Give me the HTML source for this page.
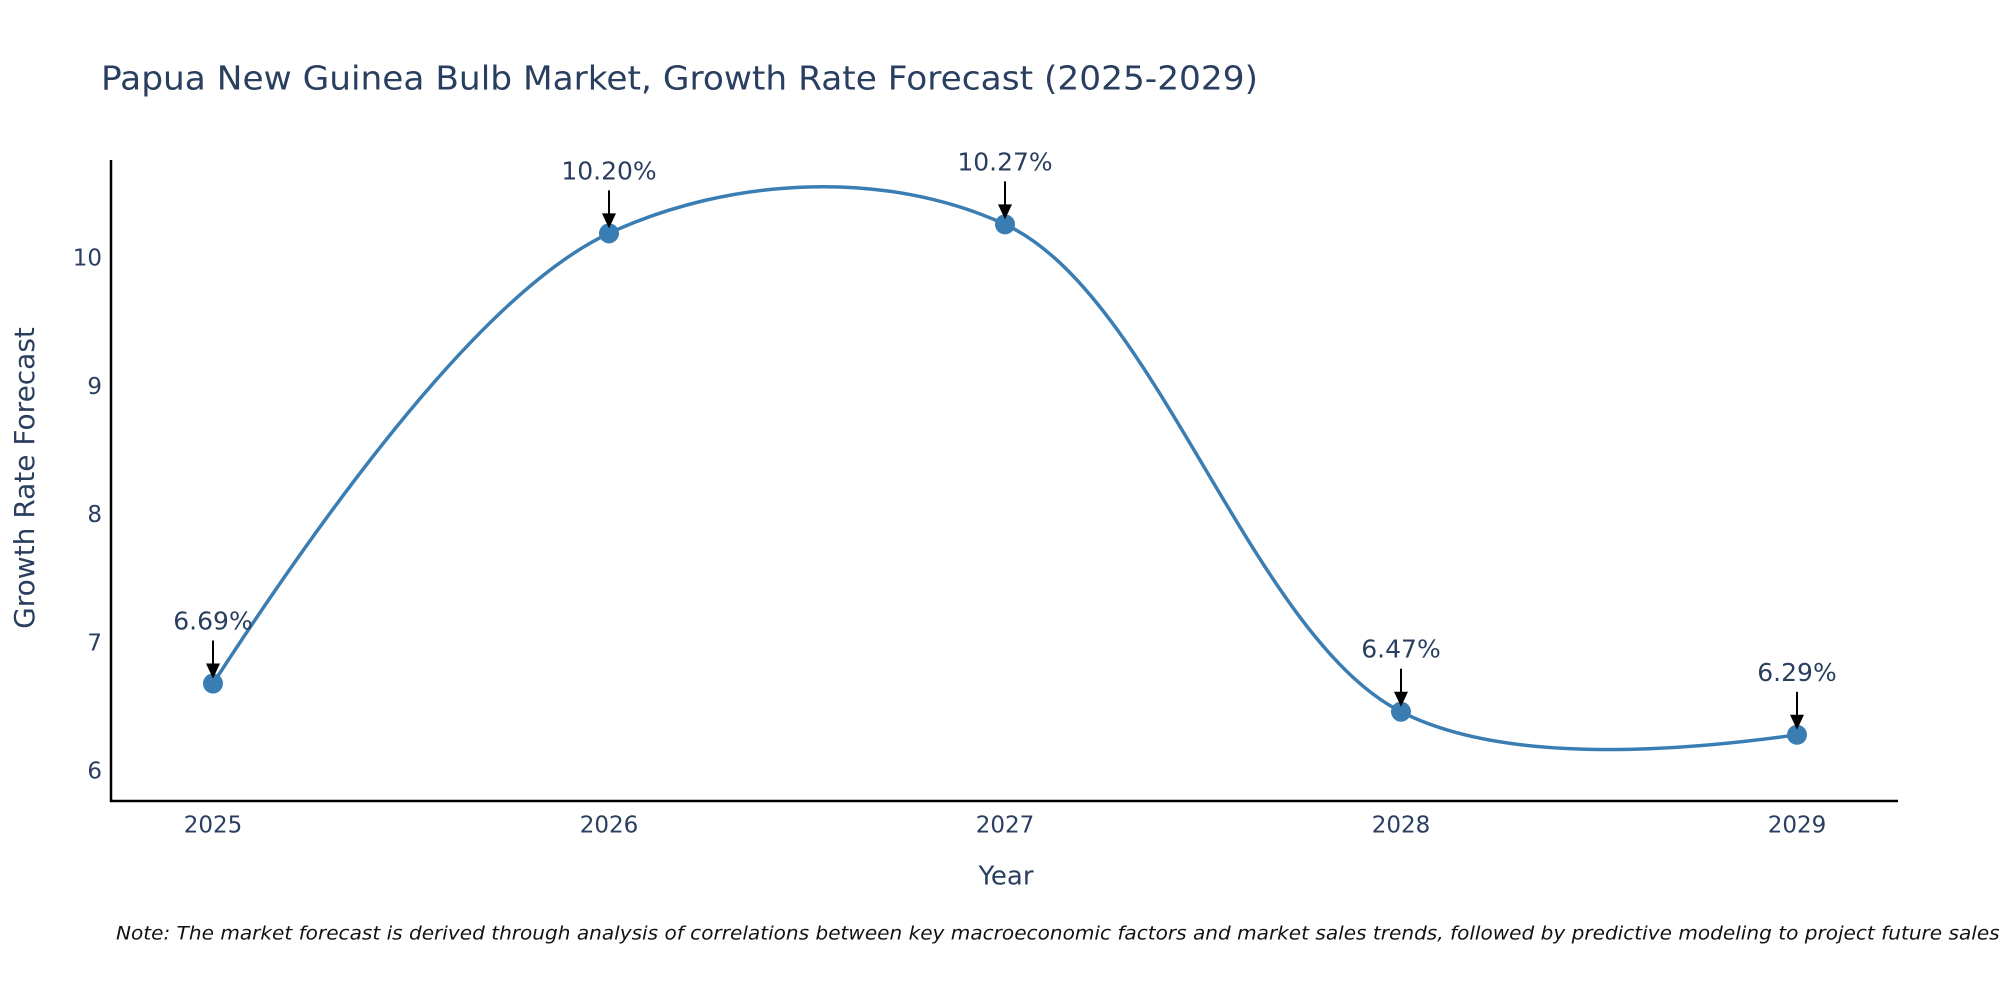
<!DOCTYPE html>
<html><head><meta charset="utf-8"><style>
html,body{margin:0;padding:0;background:#fff;overflow:hidden;}
svg{display:block;font-family:"DejaVu Sans","Liberation Sans",sans-serif;}
</style></head><body>
<svg id="chart" width="2000" height="1000" viewBox="0 0 2000 1000" xmlns="http://www.w3.org/2000/svg">
<text x="101" y="80" font-size="33" fill="#2a3f5f" dominant-baseline="middle" textLength="1157" lengthAdjust="spacingAndGlyphs">Papua New Guinea Bulb Market, Growth Rate Forecast (2025-2029)</text>
<g id="axes"></g>
<g id="series"></g>
<g id="annotations"></g>
<text x="1006" y="877" font-size="26" fill="#2a3f5f" text-anchor="middle" dominant-baseline="middle">Year</text>
<text transform="translate(26,478) rotate(-90)" font-size="28" fill="#2a3f5f" text-anchor="middle" dominant-baseline="middle">Growth Rate Forecast</text>
<text x="116" y="934" font-size="19" font-style="italic" fill="#111" dominant-baseline="middle" textLength="1890" lengthAdjust="spacingAndGlyphs">Note: The market forecast is derived through analysis of correlations between key macroeconomic factors and market sales trends, followed by predictive modeling to project future sales.</text>
</svg>
<script>
const years = [2025, 2026, 2027, 2028, 2029];
const growthValues = [6.69, 10.20, 10.27, 6.47, 6.29];
const valueLabels = ["6.69%", "10.20%", "10.27%", "6.47%", "6.29%"];
const yTickValues = [6, 7, 8, 9, 10];

const NS = "http://www.w3.org/2000/svg";
const xScale = y => 213 + (y - 2025) * 396;
const yScale = v => 772 - (v - 6) * 128.25;
function mk(tag, attrs, parent){const e=document.createElementNS(NS,tag);for(const k in attrs)e.setAttribute(k,attrs[k]);parent.appendChild(e);return e;}
const axes=document.getElementById('axes'), series=document.getElementById('series'), ann=document.getElementById('annotations');

let yl=mk('line',{x1:111,y1:160,x2:111,y2:802,stroke:'#000','stroke-width':2.5},axes);


let xl=mk('line',{x1:110,y1:801,x2:1898,y2:801,stroke:'#000','stroke-width':2.5},axes);



yTickValues.forEach(v=>{
  const t=mk('text',{x:102,y:yScale(v),'font-size':23,fill:'#2a3f5f','text-anchor':'end','dominant-baseline':'middle'},axes);
  t.textContent=v;
  
  
});
years.forEach(y=>{
  const t=mk('text',{x:xScale(y),y:826,'font-size':23,fill:'#2a3f5f','text-anchor':'middle','dominant-baseline':'middle'},axes);
  t.textContent=y;
  
  
});

const pts=years.map((y,i)=>[xScale(y),yScale(growthValues[i])]);
function tangent(p,t,n,s){
  const d1x=p[0]-t[0],d1y=p[1]-t[1],d2x=n[0]-t[0],d2y=n[1]-t[1];
  const d1a=Math.pow(d1x*d1x+d1y*d1y,0.25),d2a=Math.pow(d2x*d2x+d2y*d2y,0.25);
  const nx=(d2a*d2a*d1x-d1a*d1a*d2x)*s,ny=(d2a*d2a*d1y-d1a*d1a*d2y)*s;
  const den1=3*d2a*(d1a+d2a),den2=3*d1a*(d1a+d2a);
  return [[t[0]+nx/den1,t[1]+ny/den1],[t[0]-nx/den2,t[1]-ny/den2]];
}
const tg=[];for(let i=1;i<pts.length-1;i++)tg.push(tangent(pts[i-1],pts[i],pts[i+1],1.0));
let d='M'+pts[0]+'Q'+tg[0][0]+' '+pts[1];
for(let i=2;i<pts.length-1;i++)d+='C'+tg[i-2][1]+' '+tg[i-1][0]+' '+pts[i];
d+='Q'+tg[pts.length-3][1]+' '+pts[pts.length-1];
const line=mk('path',{d:d,fill:'none',stroke:'#3a7db2','stroke-width':3.5},series);



pts.forEach((p,i)=>{
  const c=mk('circle',{cx:p[0],cy:p[1],r:10,fill:'#3a7db2'},series);
  
  
  const a=mk('line',{x1:p[0],y1:p[1]-43,x2:p[0],y2:p[1]-18,stroke:'#000','stroke-width':2},ann);
  
  
  const h=mk('polygon',{points:`${p[0]-7},${p[1]-20} ${p[0]+7},${p[1]-20} ${p[0]},${p[1]-5}`,fill:'#000'},ann);
  
  
  const t=mk('text',{x:p[0],y:p[1]-61,'font-size':25,fill:'#2a3f5f','text-anchor':'middle','dominant-baseline':'middle'},ann);
  t.textContent=valueLabels[i];
  
  
});
</script>
</body></html>
